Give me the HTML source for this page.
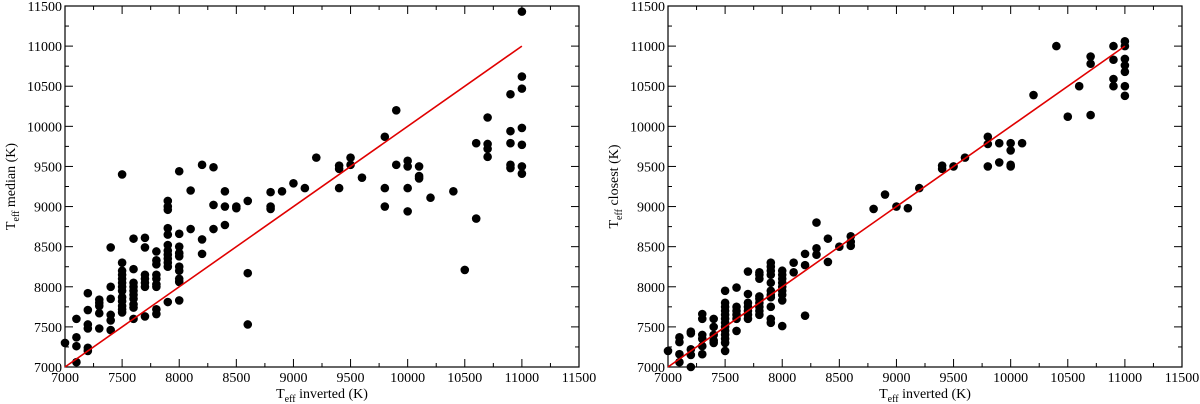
<!DOCTYPE html>
<html><head><meta charset="utf-8"><style>
html,body{margin:0;padding:0;background:#fff;}
svg{display:block;}
svg text{font-family:"Liberation Serif","DejaVu Serif",serif;}
</style></head><body>
<svg id="chart" width="1200" height="404" viewBox="0 0 1200 404" xmlns="http://www.w3.org/2000/svg" font-family="Liberation Serif, serif"></svg>
<script>
const xTicks=[7000,7500,8000,8500,9000,9500,10000,10500,11000,11500];
const yTicks=[7000,7500,8000,8500,9000,9500,10000,10500,11000,11500];
const medianX=[7000,7100,7100,7100,7100,7200,7200,7200,7200,7200,7200,7300,7300,7300,7300,7300,7400,7400,7400,7400,7400,7400,
7500,7500,7500,7500,7500,7500,7500,7500,7500,7500,7500,7500,7500,
7600,7600,7600,7600,7600,7600,7600,7600,7600,7600,
7700,7700,7700,7700,7700,7700,7700,
7800,7800,7800,7800,7800,7800,7800,7800,7800,
7900,7900,7900,7900,7900,7900,7900,7900,7900,7900,7900,7900,
8000,8000,8000,8000,8000,8000,8000,8000,8000,8000,
8100,8100,8200,8200,8200,8300,8300,8300,8400,8400,8400,8500,8500,8600,8600,8600,8800,8800,8800,8900,9000,9100,9200,
9400,9400,9400,9500,9500,9600,9800,9800,9800,9900,9900,10000,10000,10000,10000,10100,10100,10100,10200,10400,10500,
10600,10600,10700,10700,10700,10700,10900,10900,10900,10900,10900,11000,11000,11000,11000,11000,11000,11000];
const medianY=[7300,7600,7370,7260,7060,7920,7710,7530,7480,7240,7200,7840,7800,7760,7670,7480,8490,8000,7850,7650,7580,7460,
9400,8300,8200,8150,8100,8050,8000,7950,7870,7820,7760,7720,7680,
8600,8220,8050,8000,7950,7900,7850,7780,7740,7600,
8610,8490,8150,8100,8050,8000,7630,
8440,8330,8280,8150,8100,8030,8000,7720,7660,
9070,9000,8960,8730,8650,8520,8450,8400,8350,8300,8250,7810,
9440,8660,8500,8420,8380,8250,8200,8100,8060,7830,
9200,8720,9520,8590,8410,9490,9020,8720,9190,9000,8770,9000,8980,9070,8170,7530,9180,9000,8970,9190,9290,9230,9610,
9510,9470,9230,9610,9520,9360,9870,9230,9000,10200,9520,9570,9500,9230,8940,9500,9380,9350,9110,9190,8210,
9790,8850,10110,9780,9720,9620,10400,9940,9790,9520,9480,11430,10620,10470,9980,9770,9500,9410];
const closestX=[7000,7100,7100,7100,7100,7200,7200,7200,7200,7200,7300,7300,7300,7300,7300,7300,7400,7400,7400,7400,7400,
7500,7500,7500,7500,7500,7500,7500,7500,7500,7500,7500,7500,7500,
7600,7600,7600,7600,7600,7600,7700,7700,7700,7700,7700,7700,7700,
7800,7800,7800,7800,7800,7800,7800,7800,7800,
7900,7900,7900,7900,7900,7900,7900,7900,7900,7900,7900,
8000,8000,8000,8000,8000,8000,8000,8000,8000,
8100,8100,8200,8200,8200,8300,8300,8300,8400,8400,8500,8600,8600,8600,8800,8900,9000,9100,9200,9400,9400,9500,9600,
9800,9800,9800,9900,9900,10000,10000,10000,10000,10100,10200,10400,10500,10600,10700,10700,10700,
10900,10900,10900,10900,11000,11000,11000,11000,11000,11000,11000];
const closestY=[7200,7370,7310,7160,7060,7440,7420,7220,7150,7000,7660,7600,7400,7350,7260,7160,7600,7500,7400,7330,7300,
7950,7800,7750,7700,7650,7600,7550,7500,7450,7400,7350,7300,7200,
7990,7750,7700,7650,7600,7450,8190,7910,7800,7750,7700,7650,7600,
8180,8150,8100,7880,7850,7800,7750,7700,7650,
8300,8250,8200,8150,8050,7950,7900,7870,7750,7600,7550,
8200,8150,8100,8050,8000,7950,7900,7830,7510,
8300,8180,8410,8270,7640,8800,8480,8400,8600,8310,8500,8630,8560,8510,8970,9150,9000,8980,9230,9510,9470,9500,9610,
9870,9780,9500,9790,9550,9790,9700,9520,9500,9790,10390,11000,10120,10500,10870,10780,10140,
11000,10830,10590,10500,11060,11000,10840,10760,10680,10500,10380];
const fitLine=[7000,11000];

const NS="http://www.w3.org/2000/svg";
const svg=document.getElementById('chart');
const FF='Liberation Serif, DejaVu Serif, serif';
function mk(tag,attrs,parent){const e=document.createElementNS(NS,tag);for(const k in attrs)e.setAttribute(k,attrs[k]);(parent||svg).appendChild(e);return e;}

function panel(left,xs,ys,ylabel,pname){
  const L=left,R=left+514,T=6,B=367;
  const sx=v=>L+(v-7000)/(11500-7000)*(R-L);
  const sy=v=>B-(v-7000)/(11500-7000)*(B-T);
  const g=mk('g',{});
  
  
  const frame=mk('rect',{x:L,y:T,width:R-L,height:B-T,fill:'none',stroke:'#000','stroke-width':1.2},g);
  
  
  xTicks.forEach((t,i)=>{
    const x=sx(t);
    mk('line',{x1:x,y1:B,x2:x,y2:B-8,stroke:'#000'},g);
    mk('line',{x1:x,y1:T,x2:x,y2:T+8,stroke:'#000'},g);
    if(i<xTicks.length-1){const xm=sx(t+250);
      mk('line',{x1:xm,y1:B,x2:xm,y2:B-4,stroke:'#000'},g);
      mk('line',{x1:xm,y1:T,x2:xm,y2:T+4,stroke:'#000'},g);}
    const tx=mk('text',{x:x,y:382,'text-anchor':'middle','font-size':14,'font-family':FF},g);
    tx.textContent=t;
    
    
  });
  yTicks.forEach((t,i)=>{
    const y=sy(t);
    mk('line',{x1:L,y1:y,x2:L+8,y2:y,stroke:'#000'},g);
    mk('line',{x1:R,y1:y,x2:R-8,y2:y,stroke:'#000'},g);
    if(i<yTicks.length-1){const ym=sy(t+250);
      mk('line',{x1:L,y1:ym,x2:L+4,y2:ym,stroke:'#000'},g);
      mk('line',{x1:R,y1:ym,x2:R-4,y2:ym,stroke:'#000'},g);}
    const ty=mk('text',{x:L-3,y:y+5,'text-anchor':'end','font-size':14,'font-family':FF},g);
    ty.textContent=t;
    
    
  });
  const xt=mk('text',{x:(L+R)/2,y:398,'text-anchor':'middle','font-size':14,'font-family':FF},g);
  xt.innerHTML='T<tspan font-size="10" dy="4">eff</tspan><tspan dy="-4"> inverted (K)</tspan>';
  
  
  const yt=mk('text',{x:0,y:0,'text-anchor':'middle','font-size':14,'font-family':FF,transform:`translate(${L-50},${(T+B)/2}) rotate(-90)`},g);
  yt.innerHTML='T<tspan font-size="10" dy="4">eff</tspan><tspan dy="-4"> '+ylabel+' (K)</tspan>';
  
  
  xs.forEach((v,i)=>{
    const c=mk('circle',{cx:sx(v),cy:sy(ys[i]),r:4.3,fill:'#000'},g);
    
    
  });
  const ln=mk('line',{x1:sx(fitLine[0]),y1:sy(fitLine[0]),x2:sx(fitLine[1]),y2:sy(fitLine[1]),stroke:'#e00000','stroke-width':1.6},g);
  
  
}
panel(65,medianX,medianY,'median','median-panel');
panel(668,closestX,closestY,'closest','closest-panel');
</script>
</body></html>
